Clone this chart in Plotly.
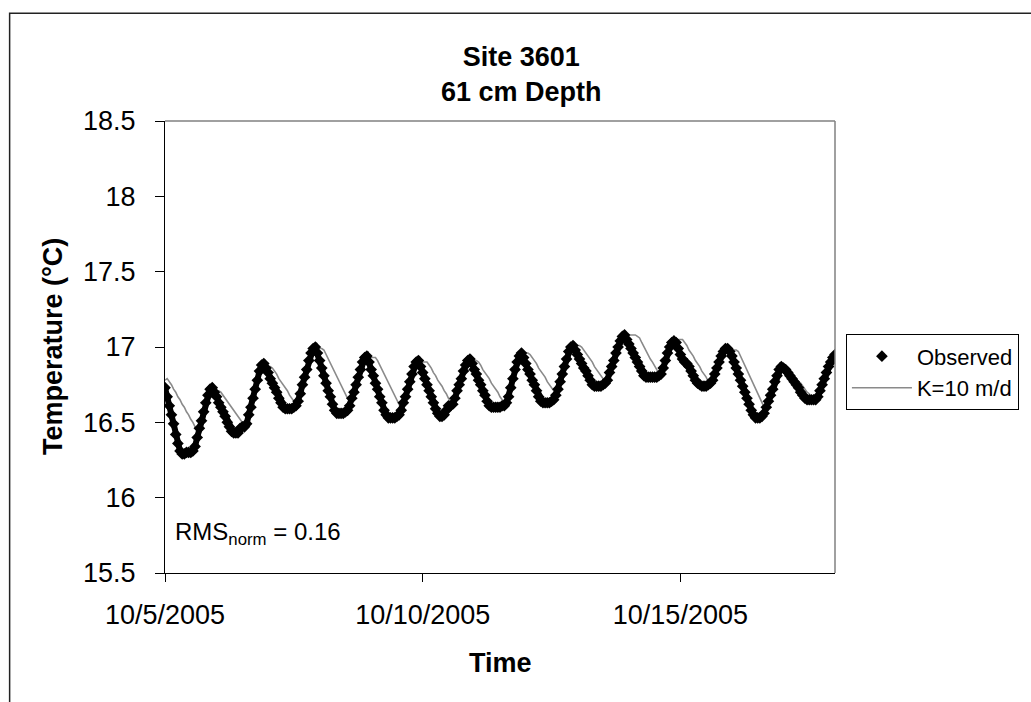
import plotly.graph_objects as go
import pandas as pd

# ---------------- data (hourly) ----------------
start_time = "2005-10-05 00:00"

observed = [
    # 10/5
    16.73, 16.67, 16.61, 16.55, 16.49, 16.42, 16.36, 16.31, 16.29, 16.29, 16.30, 16.30,
    16.30, 16.31, 16.34, 16.40, 16.46, 16.51, 16.57, 16.63, 16.68, 16.72, 16.73, 16.70,
    # 10/6
    16.67, 16.63, 16.60, 16.57, 16.54, 16.50, 16.47, 16.44, 16.43, 16.43, 16.43, 16.46,
    16.47, 16.47, 16.49, 16.55, 16.60, 16.66, 16.72, 16.78, 16.84, 16.88, 16.89, 16.86,
    # 10/7
    16.83, 16.79, 16.76, 16.73, 16.70, 16.66, 16.63, 16.60, 16.59, 16.59, 16.59, 16.59,
    16.60, 16.61, 16.64, 16.69, 16.75, 16.80, 16.85, 16.91, 16.96, 16.99, 17.00, 16.96,
    # 10/8
    16.91, 16.86, 16.81, 16.76, 16.71, 16.67, 16.62, 16.58, 16.56, 16.56, 16.56, 16.56,
    16.57, 16.58, 16.61, 16.66, 16.70, 16.75, 16.80, 16.85, 16.90, 16.93, 16.94, 16.90,
    # 10/9
    16.85, 16.81, 16.76, 16.72, 16.67, 16.63, 16.58, 16.55, 16.53, 16.53, 16.53, 16.53,
    16.54, 16.55, 16.58, 16.63, 16.67, 16.72, 16.77, 16.82, 16.87, 16.90, 16.91, 16.87,
    # 10/10
    16.83, 16.79, 16.75, 16.71, 16.67, 16.63, 16.59, 16.56, 16.54, 16.54, 16.55, 16.58,
    16.61, 16.61, 16.62, 16.66, 16.71, 16.75, 16.79, 16.84, 16.88, 16.91, 16.92, 16.89,
    # 10/11
    16.85, 16.82, 16.78, 16.75, 16.71, 16.68, 16.64, 16.61, 16.60, 16.60, 16.60, 16.60,
    16.60, 16.61, 16.61, 16.63, 16.67, 16.73, 16.79, 16.85, 16.90, 16.94, 16.96, 16.93,
    # 10/12
    16.89, 16.85, 16.82, 16.78, 16.75, 16.71, 16.67, 16.64, 16.63, 16.63, 16.63, 16.63,
    16.64, 16.65, 16.68, 16.72, 16.77, 16.82, 16.87, 16.92, 16.97, 17.00, 17.01, 16.98,
    # 10/13
    16.95, 16.92, 16.89, 16.86, 16.84, 16.81, 16.78, 16.75, 16.74, 16.74, 16.74, 16.74,
    16.75, 16.76, 16.78, 16.83, 16.87, 16.91, 16.96, 17.00, 17.04, 17.07, 17.08, 17.05,
    # 10/14
    17.02, 16.99, 16.96, 16.93, 16.90, 16.87, 16.84, 16.81, 16.80, 16.80, 16.80, 16.80,
    16.80, 16.80, 16.81, 16.82, 16.86, 16.91, 16.96, 17.00, 17.03, 17.04, 17.03, 16.99,
    # 10/15
    16.95, 16.92, 16.90, 16.89, 16.87, 16.84, 16.81, 16.78, 16.76, 16.75, 16.74, 16.74,
    16.74, 16.75, 16.76, 16.78, 16.82, 16.86, 16.90, 16.94, 16.97, 16.99, 16.99, 16.97,
    # 10/16
    16.94, 16.90, 16.86, 16.82, 16.78, 16.74, 16.70, 16.66, 16.62, 16.58, 16.55, 16.53,
    16.53, 16.53, 16.54, 16.56, 16.60, 16.64, 16.68, 16.72, 16.77, 16.81, 16.85, 16.87,
    # 10/17
    16.86, 16.85, 16.83, 16.81, 16.79, 16.77, 16.75, 16.73, 16.70, 16.68, 16.66, 16.65,
    16.65, 16.65, 16.65, 16.65, 16.67, 16.71, 16.75, 16.79, 16.83, 16.87, 16.90, 16.93,
    # 10/18
    16.95,
]

model_k10 = [
    # 10/5
    16.78, 16.79, 16.77, 16.75, 16.72, 16.70, 16.67, 16.65, 16.62, 16.60, 16.57, 16.55,
    16.52, 16.50, 16.47, 16.44, 16.42, 16.45, 16.50, 16.56, 16.62, 16.67, 16.70, 16.71,
    # 10/6
    16.71, 16.71, 16.70, 16.68, 16.66, 16.64, 16.62, 16.60, 16.58, 16.56, 16.54, 16.52,
    16.50, 16.48, 16.48, 16.52, 16.57, 16.63, 16.69, 16.75, 16.81, 16.85, 16.87, 16.87,
    # 10/7
    16.87, 16.87, 16.86, 16.84, 16.82, 16.79, 16.77, 16.75, 16.73, 16.71, 16.68, 16.66,
    16.64, 16.62, 16.62, 16.66, 16.71, 16.77, 16.82, 16.88, 16.93, 16.97, 16.99, 16.99,
    # 10/8
    16.99, 16.99, 16.98, 16.95, 16.92, 16.89, 16.86, 16.83, 16.80, 16.78, 16.75, 16.72,
    16.69, 16.66, 16.64, 16.64, 16.67, 16.72, 16.77, 16.82, 16.87, 16.91, 16.93, 16.93,
    # 10/9
    16.93, 16.93, 16.93, 16.91, 16.88, 16.85, 16.82, 16.79, 16.76, 16.73, 16.70, 16.67,
    16.64, 16.61, 16.59, 16.61, 16.65, 16.70, 16.75, 16.80, 16.85, 16.88, 16.90, 16.90,
    # 10/10
    16.90, 16.90, 16.90, 16.88, 16.86, 16.83, 16.81, 16.78, 16.76, 16.74, 16.71, 16.69,
    16.66, 16.64, 16.62, 16.64, 16.68, 16.73, 16.77, 16.82, 16.86, 16.89, 16.91, 16.91,
    # 10/11
    16.91, 16.91, 16.90, 16.88, 16.85, 16.83, 16.81, 16.79, 16.76, 16.74, 16.72, 16.70,
    16.67, 16.65, 16.64, 16.63, 16.65, 16.70, 16.76, 16.82, 16.88, 16.92, 16.95, 16.96,
    # 10/12
    16.96, 16.96, 16.95, 16.93, 16.91, 16.89, 16.86, 16.84, 16.82, 16.80, 16.77, 16.75,
    16.73, 16.71, 16.69, 16.70, 16.74, 16.79, 16.84, 16.89, 16.94, 16.98, 17.00, 17.01,
    # 10/13
    17.01, 17.01, 17.00, 16.98, 16.96, 16.94, 16.92, 16.90, 16.87, 16.85, 16.83, 16.81,
    16.79, 16.77, 16.76, 16.80, 16.84, 16.88, 16.93, 16.97, 17.01, 17.05, 17.07, 17.08,
    # 10/14
    17.08, 17.08, 17.08, 17.08, 17.07, 17.06, 17.03, 17.00, 16.98, 16.95, 16.92, 16.90,
    16.87, 16.85, 16.83, 16.83, 16.85, 16.89, 16.94, 16.98, 17.02, 17.04, 17.05, 17.05,
    # 10/15
    17.05, 17.05, 17.03, 17.01, 16.98, 16.96, 16.94, 16.91, 16.89, 16.87, 16.84, 16.82,
    16.80, 16.77, 16.76, 16.77, 16.80, 16.84, 16.88, 16.92, 16.95, 16.97, 16.98, 16.98,
    # 10/16
    16.98, 16.98, 16.98, 16.97, 16.94, 16.91, 16.88, 16.85, 16.81, 16.78, 16.75, 16.72,
    16.69, 16.66, 16.63, 16.60, 16.61, 16.65, 16.69, 16.73, 16.77, 16.80, 16.83, 16.84,
    # 10/17
    16.84, 16.84, 16.84, 16.84, 16.83, 16.81, 16.79, 16.77, 16.76, 16.74, 16.72, 16.70,
    16.69, 16.67, 16.66, 16.66, 16.67, 16.70, 16.74, 16.78, 16.82, 16.86, 16.89, 16.92,
    # 10/18
    16.94,
]

x_tick_dates = ["2005-10-05", "2005-10-10", "2005-10-15"]
x_tick_labels = ["10/5/2005", "10/10/2005", "10/15/2005"]
y_tick_values = [15.5, 16, 16.5, 17, 17.5, 18, 18.5]
y_tick_labels = ["15.5", "16", "16.5", "17", "17.5", "18", "18.5"]

times_obs = pd.date_range(start_time, periods=len(observed), freq="h")
times_mod = pd.date_range(start_time, periods=len(model_k10), freq="h")

FONT = "Liberation Sans, Arial, Helvetica, sans-serif"

fig = go.Figure()

fig.add_trace(go.Scatter(
    x=times_mod, y=model_k10, mode="lines", name="K=10 m/d",
    line=dict(color="#8a8a8a", width=1.6), legendrank=2, legendgroup="b",
))
fig.add_trace(go.Scatter(
    x=times_obs, y=observed, mode="lines", showlegend=False, hoverinfo="skip",
    line=dict(color="black", width=6),
))
fig.add_trace(go.Scatter(
    x=times_obs, y=observed, mode="markers", name="Observed",
    marker=dict(symbol="diamond", size=9, color="black"),
    legendrank=1, legendgroup="a",
))

fig.update_layout(
    width=1031, height=702,
    margin=dict(l=165, r=189, t=121, b=129),
    paper_bgcolor="white", plot_bgcolor="white",
    font=dict(family=FONT, size=27, color="black"),
    showlegend=True,
    legend=dict(
        x=1.0163, y=0.528, xanchor="left", yanchor="top",
        bordercolor="black", borderwidth=1, bgcolor="white",
        font=dict(size=22, family=FONT), itemwidth=60,
        traceorder="grouped", tracegroupgap=0,
    ),
    xaxis=dict(
        type="date", range=[times_obs[0], times_obs[-1]],
        tickmode="array", tickvals=x_tick_dates, ticktext=x_tick_labels,
        showline=True, linecolor="black", linewidth=1,
        ticks="outside", ticklen=8, tickcolor="black", tickwidth=1,
        showgrid=False, zeroline=False,
        tickfont=dict(size=27, family=FONT), ticklabelstandoff=10,
    ),
    yaxis=dict(
        range=[15.5, 18.5], tickmode="array",
        tickvals=y_tick_values, ticktext=y_tick_labels,
        showline=True, linecolor="black", linewidth=1,
        ticks="outside", ticklen=9, tickcolor="black", tickwidth=1,
        showgrid=False, zeroline=False,
        tickfont=dict(size=27, family=FONT), ticklabelstandoff=14,
    ),
    shapes=[
        # outer chart frame
        dict(type="rect", xref="paper", yref="paper",
             x0=-0.2319, x1=1.6, y0=-0.6, y1=1.2383,
             line=dict(color="#222222", width=1.5), layer="above"),
        # grey plot-area border, top and right
        dict(type="line", xref="paper", yref="paper", x0=0, x1=1, y0=1, y1=1,
             line=dict(color="#808080", width=1.5)),
        dict(type="line", xref="paper", yref="paper", x0=1, x1=1, y0=0, y1=1,
             line=dict(color="#808080", width=1.5)),
    ],
    annotations=[
        dict(text="<b>Site 3601</b><br><b>61 cm Depth</b>", xref="paper", yref="paper",
             x=0.532, y=1.102, xanchor="center", yanchor="middle", showarrow=False,
             font=dict(size=27, family=FONT)),
        dict(text="<b>Temperature (°C)</b>", xref="paper", yref="paper",
             x=-0.167, y=0.5, xanchor="center", yanchor="middle", showarrow=False,
             textangle=-90, font=dict(size=27, family=FONT)),
        dict(text="<b>Time</b>", xref="paper", yref="paper",
             x=0.5, y=-0.2, xanchor="center", yanchor="middle", showarrow=False,
             font=dict(size=27, family=FONT)),
        dict(text="RMS<sub>norm</sub> = 0.16", xref="paper", yref="paper",
             x=0.0118, y=0.088, xanchor="left", yanchor="middle", showarrow=False,
             font=dict(size=24, family=FONT)),
    ],
)

fig.write_html(
    "out.html",
    config={"displayModeBar": False},
    post_script="document.body.style.margin='0px';document.body.style.overflow='hidden';",
)
